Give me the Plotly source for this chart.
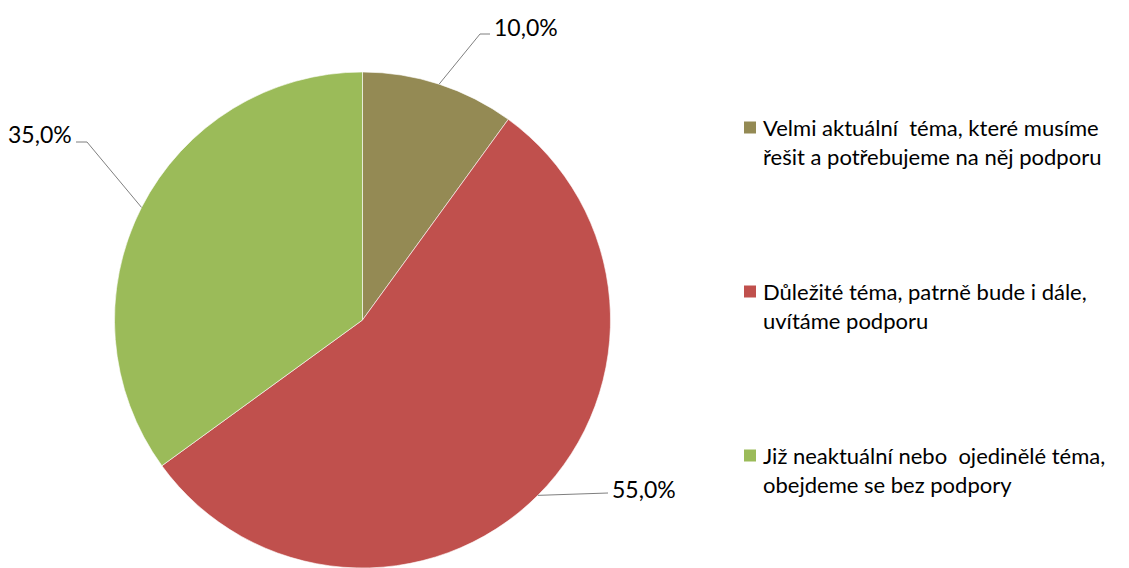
import math
import plotly.graph_objects as go

# Survey answers and their shares (%)
categories = [
    "Velmi aktuální\u00a0 téma, které musíme<br>řešit a potřebujeme na něj podporu",
    "Důležité téma, patrně bude i dále,<br>uvítáme podporu",
    "Již neaktuální nebo\u00a0 ojedinělé téma,<br>obejdeme se bez podpory",
]
shares = [10.0, 55.0, 35.0]
colors = ["#948A54", "#C0504D", "#9BBB59"]

W, H = 1129, 568
FONT = "Lato"

# Pie geometry in pixels (center and radius)
CX, CY, R = 362.5, 320.0, 248.0

# Callout layout: elbow point, horizontal tail length, side and label lift
callout_elbows = [(480, 34), (608, 493), (87, 142)]
callout_tails = [10, 0, 11]
callout_sides = ["right", "right", "left"]
callout_lifts = [7, 4, 8]

# Legend layout: left edge of the text and vertical center of each item
legend_x = 757
legend_centers = [142, 306, 470]
legend_line_gap = 29


def px(x):
    return x / W


def py(y):
    return 1 - y / H


fig = go.Figure(
    go.Pie(
        labels=[c.replace("<br>", " ") for c in categories],
        values=shares,
        sort=False,
        direction="clockwise",
        rotation=0,
        marker=dict(colors=colors, line=dict(color="#FFFFFF", width=0.6)),
        textinfo="none",
        hoverinfo="label+percent",
        showlegend=False,
        domain=dict(x=[px(CX - R), px(CX + R)], y=[py(CY + R), py(CY - R)]),
    )
)

shapes = []
annotations = []

# Leader lines from each slice's mid-angle to its percentage label
total = sum(shares)
cum = 0.0
for val, (ex, ey), tail, side, lift in zip(
    shares, callout_elbows, callout_tails, callout_sides, callout_lifts
):
    mid = (cum + val / 2) / total * 2 * math.pi
    cum += val
    sx = CX + R * math.sin(mid)
    sy = CY - R * math.cos(mid)
    sign = 1 if side == "right" else -1
    tx = ex + sign * tail
    shapes.append(
        dict(
            type="path",
            xref="paper",
            yref="paper",
            path=f"M {px(sx)},{py(sy)} L {px(ex)},{py(ey)} L {px(tx)},{py(ey)}",
            line=dict(color="#7F7F7F", width=1),
        )
    )
    annotations.append(
        dict(
            x=px(tx + sign * 2),
            y=py(ey - lift),
            xref="paper",
            yref="paper",
            text=f"{val:.1f}%".replace(".", ","),
            showarrow=False,
            xanchor="left" if side == "right" else "right",
            yanchor="middle",
            font=dict(family=FONT, size=23, color="#000000"),
        )
    )

# Legend: colored squares and wrapped labels
for cat, col, yc in zip(categories, colors, legend_centers):
    first_line = yc - legend_line_gap / 2
    shapes.append(
        dict(
            type="rect",
            xref="paper",
            yref="paper",
            x0=px(744),
            x1=px(756),
            y0=py(first_line - 6),
            y1=py(first_line + 6),
            fillcolor=col,
            line=dict(width=0),
        )
    )
    annotations.append(
        dict(
            x=px(legend_x + 4),
            y=py(yc),
            xref="paper",
            yref="paper",
            text=cat,
            showarrow=False,
            xanchor="left",
            yanchor="middle",
            align="left",
            font=dict(family=FONT, size=22, color="#000000"),
        )
    )

fig.update_layout(
    width=W,
    height=H,
    margin=dict(l=0, r=0, t=0, b=0),
    paper_bgcolor="#FFFFFF",
    plot_bgcolor="#FFFFFF",
    shapes=shapes,
    annotations=annotations,
)

fig.write_html("out.html")
